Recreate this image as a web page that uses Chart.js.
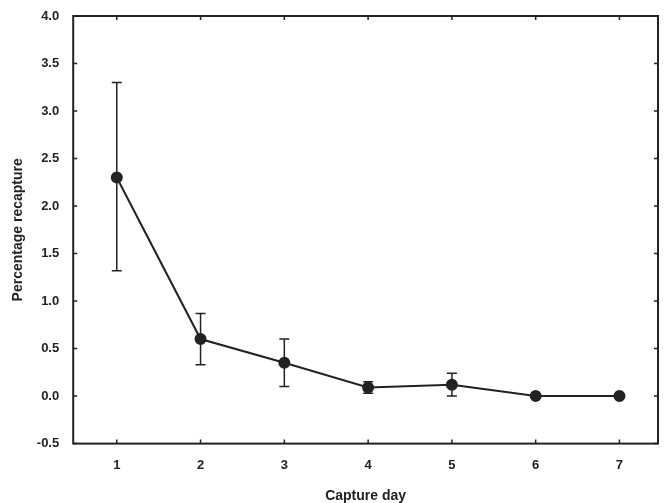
<!DOCTYPE html>
<html><head><script src="https://cdn.jsdelivr.net/npm/chart.js@4"></script>
<style>body{margin:0;background:#fff}#w{width:665px;height:503px}</style></head>
<body><div id="w"><canvas id="c"></canvas></div>
<script>
const days=[1,2,3,4,5,6,7];
const means=[2.3,0.6,0.35,0.09,0.12,0,0];
const upper=[3.3,0.87,0.6,0.15,0.24,0,0];
const lower=[1.32,0.33,0.1,0.03,0.0,0,0];
const yTicks=[-0.5,0,0.5,1,1.5,2,2.5,3,3.5,4];
const ink='#222';
const deco={id:'deco',afterDatasetsDraw(ch){
 const c=ch.ctx,x=ch.scales.x,y=ch.scales.y,a=ch.chartArea;
 c.save();c.strokeStyle=ink;c.lineWidth=1.5;
 days.forEach((d,i)=>{if(upper[i]===lower[i])return;const px=x.getPixelForValue(d),t=y.getPixelForValue(upper[i]),b=y.getPixelForValue(lower[i]);
  c.beginPath();c.moveTo(px,t);c.lineTo(px,b);c.moveTo(px-5,t);c.lineTo(px+5,t);c.moveTo(px-5,b);c.lineTo(px+5,b);c.stroke();});
 c.lineWidth=2;c.strokeRect(a.left,a.top,a.right-a.left,a.bottom-a.top);
 c.lineWidth=1.5;c.beginPath();
 days.forEach(d=>{const px=x.getPixelForValue(d);c.moveTo(px,a.top);c.lineTo(px,a.top+4);c.moveTo(px,a.bottom);c.lineTo(px,a.bottom-4);});
 yTicks.forEach(v=>{const py=y.getPixelForValue(v);c.moveTo(a.right,py);c.lineTo(a.right-4,py);c.moveTo(a.left,py);c.lineTo(a.left+4,py);});
 c.stroke();c.restore();}};
new Chart(document.getElementById('c'),{type:'scatter',
 data:{datasets:[{data:days.map((d,i)=>({x:d,y:means[i]})),showLine:true,borderColor:ink,backgroundColor:ink,borderWidth:2,pointRadius:5,pointHoverRadius:5}]},
 options:{responsive:true,maintainAspectRatio:false,animation:false,
  layout:{padding:{top:16,right:-3,left:6,bottom:0}},
  plugins:{legend:{display:false},tooltip:{enabled:false}},
  scales:{
   x:{type:'linear',min:0.48,max:7.46,grid:{display:false},border:{display:false},
     afterBuildTicks:s=>{s.ticks=days.map(v=>({value:v}))},
     ticks:{color:ink,font:{family:'Liberation Sans',weight:'bold',size:13},padding:6},
     title:{display:true,text:'Capture day',color:ink,font:{family:'Liberation Sans',weight:'bold',size:14},padding:{top:9,bottom:-2}}},
   y:{min:-0.5,max:4,grid:{display:false},border:{display:false},
     afterBuildTicks:s=>{s.ticks=yTicks.map(v=>({value:v}))},
     ticks:{color:ink,font:{family:'Liberation Sans',weight:'bold',size:13},callback:v=>v.toFixed(1),padding:6},
     title:{display:true,text:'Percentage recapture',color:ink,font:{family:'Liberation Sans',weight:'bold',size:14}}}}},
 plugins:[deco]});
</script></body></html>
